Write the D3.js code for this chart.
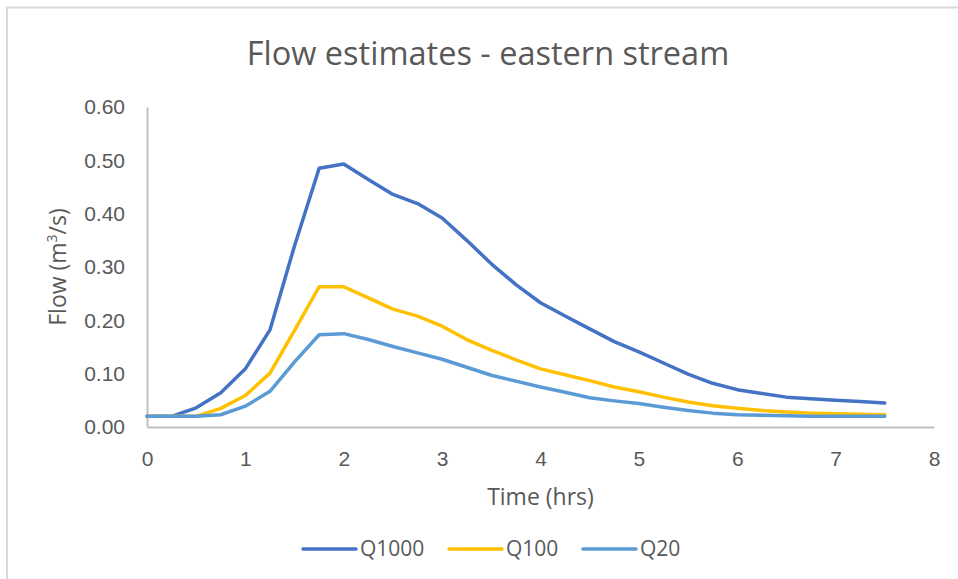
<!DOCTYPE html>
<html>
<head>
<meta charset="utf-8">
<script src="https://cdn.jsdelivr.net/npm/d3@7"></script>
<style>
  body { margin: 0; background: #fff; }
  svg { display: block; font-family: "Open Sans", "Noto Sans", sans-serif; }
</style>
</head>
<body>
<svg id="chart"></svg>
<script>
// time in hours, one reading every quarter hour
const hours = d3.range(0, 7.51, 0.25)
const q1000 = [0.02,0.02,0.036,0.064,0.109,0.182,0.34,0.485,0.493,0.464,0.436,0.419,0.392,0.35,0.306,0.267,0.233,0.208,0.184,0.16,0.141,0.12,0.099,0.082,0.07,0.063,0.056,0.053,0.05,0.048,0.045]
const q100 = [0.02,0.02,0.02,0.035,0.059,0.101,0.181,0.263,0.263,0.242,0.221,0.208,0.189,0.164,0.144,0.126,0.109,0.098,0.087,0.075,0.066,0.056,0.047,0.04,0.035,0.031,0.028,0.026,0.025,0.024,0.023]
const q20 = [0.02,0.02,0.02,0.023,0.039,0.067,0.122,0.173,0.175,0.164,0.151,0.139,0.127,0.112,0.097,0.086,0.075,0.065,0.055,0.049,0.044,0.037,0.031,0.026,0.023,0.022,0.021,0.02,0.02,0.02,0.02]
const seriesNames = ['Q1000', 'Q100', 'Q20']
const seriesColors = ['#4472C4', '#FFC000', '#5B9BD5']
const xTicks = [0, 1, 2, 3, 4, 5, 6, 7, 8]
const yTicks = [0, 0.1, 0.2, 0.3, 0.4, 0.5, 0.6]

const width = 958, height = 579
const margin = {top: 107, right: 24, bottom: 152, left: 147}
const textColor = '#595959'

const svg = d3.select('#chart').attr('width', width).attr('height', height)

// frame edges visible in the screenshot
svg.append('line').attr('x1', 6).attr('x2', width).attr('y1', 7.5).attr('y2', 7.5)
    .attr('stroke', '#d9d9d9').attr('stroke-width', 2)
svg.append('line').attr('x1', 7).attr('x2', 7).attr('y1', 7).attr('y2', height)
    .attr('stroke', '#d9d9d9').attr('stroke-width', 2)

const x = d3.scaleLinear().domain([0, 8]).range([margin.left, width - margin.right])
const y = d3.scaleLinear().domain([0, 0.6]).range([height - margin.bottom, margin.top])

// title
svg.append('text')
    .attr('x', 488).attr('y', 65)
    .attr('text-anchor', 'middle')
    .attr('fill', textColor)
    .style('font-size', '32.5px')
    .text('Flow estimates - eastern stream')

// x axis
const xAxis = svg.append('g')
    .attr('transform', 'translate(0,' + y(0) + ')')
    .call(d3.axisBottom(x).tickValues(xTicks).tickFormat(d3.format('d')).tickSize(0).tickPadding(24))
xAxis.select('.domain').attr('stroke', '#bfbfbf').attr('stroke-width', 2)
xAxis.selectAll('text').attr('fill', textColor).style('font-size', '21px')

// y axis
const yAxis = svg.append('g')
    .attr('transform', 'translate(' + x(0) + ',0)')
    .call(d3.axisLeft(y).tickValues(yTicks).tickFormat(d3.format('.2f')).tickSize(0).tickPadding(22))
yAxis.select('.domain').attr('stroke', '#bfbfbf').attr('stroke-width', 2)
yAxis.selectAll('text').attr('fill', textColor).style('font-size', '21px')

// axis titles
svg.append('text')
    .attr('x', (x(0) + x(8)) / 2).attr('y', 505)
    .attr('text-anchor', 'middle')
    .attr('fill', textColor)
    .style('font-size', '23px')
    .text('Time (hrs)')

const yTitle = svg.append('text')
    .attr('transform', 'translate(66,' + ((y(0) + y(0.6)) / 2) + ') rotate(-90)')
    .attr('text-anchor', 'middle')
    .attr('fill', textColor)
    .style('font-size', '23px')
yTitle.append('tspan').text('Flow (m')
yTitle.append('tspan').attr('baseline-shift', 'super').style('font-size', '14px').text('3')
yTitle.append('tspan').text('/s)')

// lines
const allSeries = [q1000, q100, q20]
const line = d3.line()
    .x((d, i) => x(hours[i]))
    .y(d => y(d))

svg.append('g')
    .selectAll('path')
    .data(allSeries)
    .join('path')
    .attr('d', d => line(d))
    .attr('fill', 'none')
    .attr('stroke', (d, i) => seriesColors[i])
    .attr('stroke-width', 3.5)
    .attr('stroke-linejoin', 'round')
    .attr('stroke-linecap', 'round')

// legend
const legendX = [303, 449, 583]
const legend = svg.append('g')
    .selectAll('g')
    .data(seriesNames)
    .join('g')
    .attr('transform', (d, i) => 'translate(' + legendX[i] + ',549)')
legend.append('line')
    .attr('x1', 0).attr('x2', 53)
    .attr('stroke', (d, i) => seriesColors[i])
    .attr('stroke-width', 3.5)
    .attr('stroke-linecap', 'round')
legend.append('text')
    .attr('x', 57).attr('dy', '0.35em')
    .attr('fill', textColor)
    .style('font-size', '21px')
    .text(d => d)
</script>
</body>
</html>
